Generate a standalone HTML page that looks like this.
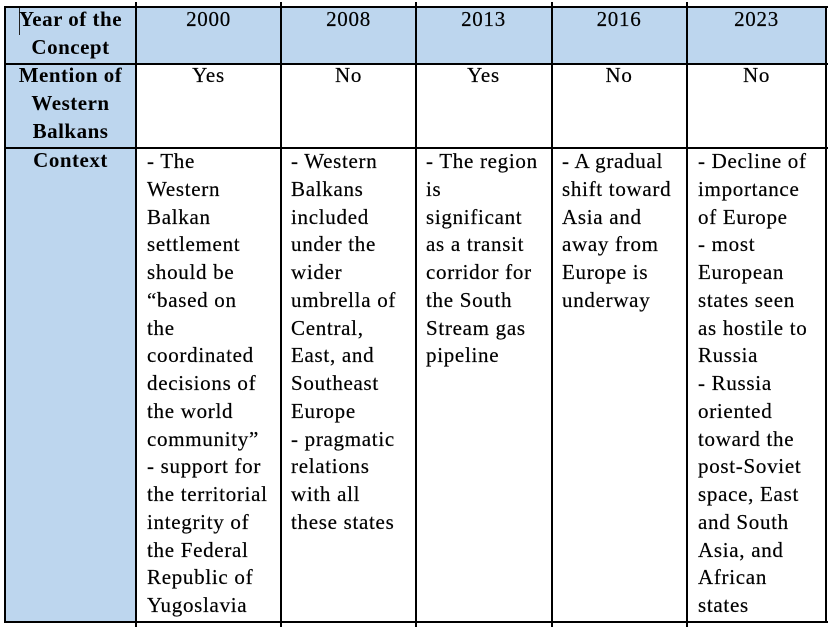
<!DOCTYPE html>
<html>
<head>
<meta charset="utf-8">
<style>
  html,body{margin:0;padding:0;background:#fff;}
  body{width:831px;height:627px;position:relative;overflow:hidden;
       font-family:"Liberation Serif","DejaVu Serif",serif;color:#000;}
  .bg{position:absolute;background:#BDD6EE;}
  .h{position:absolute;height:2px;background:#000;}
  .v{position:absolute;width:2px;background:#000;}
  .t{position:absolute;font-size:21px;line-height:27.75px;white-space:pre;letter-spacing:0.7px;-webkit-text-stroke:0.2px #000;}
  .c{text-align:center;}
  .b{font-weight:bold;letter-spacing:0.5px;-webkit-text-stroke:0;}
</style>
</head>
<body>
<!-- backgrounds -->
<div class="bg" style="left:5px;top:7px;width:821px;height:57px;"></div>
<div class="bg" style="left:5px;top:7px;width:131px;height:615px;"></div>

<!-- horizontal lines -->
<div class="h" style="left:4px;top:6px;width:824px;"></div>
<div class="h" style="left:4px;top:63px;width:824px;"></div>
<div class="h" style="left:4px;top:147px;width:824px;"></div>
<div class="h" style="left:4px;top:621px;width:824px;"></div>

<!-- vertical lines -->
<div class="v" style="left:4px;top:6px;height:617px;"></div>
<div class="v" style="left:135px;top:2px;height:625px;"></div>
<div class="v" style="left:280px;top:2px;height:625px;"></div>
<div class="v" style="left:415px;top:2px;height:625px;"></div>
<div class="v" style="left:551px;top:2px;height:625px;"></div>
<div class="v" style="left:686px;top:2px;height:625px;"></div>
<div class="v" style="left:825px;top:6px;height:617px;"></div>

<!-- cursor -->
<div style="position:absolute;left:19px;top:8px;width:1px;height:27px;background:#222;"></div>

<!-- column 1 headers -->
<div class="t b c" style="left:5px;top:6px;width:131px;">Year of the
Concept</div>
<div class="t b c" style="left:5px;top:62px;width:131px;">Mention of
Western
Balkans</div>
<div class="t b c" style="left:5px;top:147px;width:131px;">Context</div>

<!-- year headers -->
<div class="t c" style="left:136px;top:6px;width:145px;">2000</div>
<div class="t c" style="left:281px;top:6px;width:135px;">2008</div>
<div class="t c" style="left:416px;top:6px;width:135px;">2013</div>
<div class="t c" style="left:551px;top:6px;width:136px;">2016</div>
<div class="t c" style="left:687px;top:6px;width:139px;">2023</div>

<!-- mention row -->
<div class="t c" style="left:136px;top:62px;width:145px;">Yes</div>
<div class="t c" style="left:281px;top:62px;width:135px;">No</div>
<div class="t c" style="left:416px;top:62px;width:135px;">Yes</div>
<div class="t c" style="left:551px;top:62px;width:136px;">No</div>
<div class="t c" style="left:687px;top:62px;width:139px;">No</div>

<!-- context row -->
<div class="t" style="left:147px;top:148px;">- The
Western
Balkan
settlement
should be
“based on
the
coordinated
decisions of
the world
community”
- support for
the territorial
integrity of
the Federal
Republic of
Yugoslavia</div>

<div class="t" style="left:291px;top:148px;">- Western
Balkans
included
under the
wider
umbrella of
Central,
East, and
Southeast
Europe
- pragmatic
relations
with all
these states</div>

<div class="t" style="left:426px;top:148px;">- The region
is
significant
as a transit
corridor for
the South
Stream gas
pipeline</div>

<div class="t" style="left:562px;top:148px;">- A gradual
shift toward
Asia and
away from
Europe is
underway</div>

<div class="t" style="left:698px;top:148px;">- Decline of
importance
of Europe
- most
European
states seen
as hostile to
Russia
- Russia
oriented
toward the
post-Soviet
space, East
and South
Asia, and
African
states</div>
</body>
</html>
